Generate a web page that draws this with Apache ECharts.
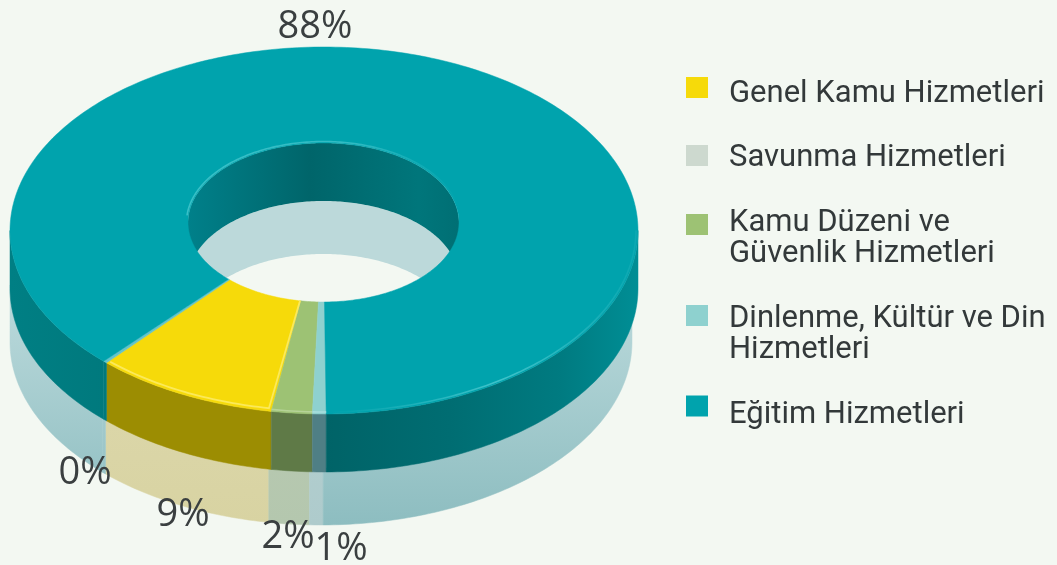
<!DOCTYPE html>
<html><head><meta charset="utf-8">
<style>html,body{margin:0;padding:0;background:#f3f8f2;overflow:hidden}#c{width:1057px;height:565px;filter:blur(.55px)}</style>
<script src="https://cdn.jsdelivr.net/npm/echarts@6/dist/echarts.min.js"></script>
</head><body><div id="c"></div>
<script>
// ---- data
const categories = ['Genel Kamu Hizmetleri','Savunma Hizmetleri','Kamu Düzeni ve\nGüvenlik Hizmetleri','Dinlenme, Kültür ve Din\nHizmetleri','Eğitim Hizmetleri'];
const values = [9.49, 0.2, 2.1, 0.7, 87.51];
const sliceOrder = [3, 2, 0, 1, 4];      // clockwise from the bottom of the ring
const startAngle = -0.4;

// ---- styles
const legendColors = ['#f6da0a','#cdd9cf','#9dc274','#8ed1cf','#00a3ad'];
const topColors    = ['#f6da0a','#62c3ca','#9dc274','#8ed1cf','#00a3ad'];
const edgeColors   = ['#fbe95a','#62c3ca','#b6d398','#a8dede','#3cbfc7'];
const wallColors   = ['#9c8d02',null,'#5f7a47','#4f7f85',null];
const reflectColors= [['#dfdab0','#d8d3a2'],['#bcdadc','#8dbdc0'],['#bccbb4','#b4c7ae'],['#b9d2d3','#aecbcc'],['#bcdadc','#8dbdc0']];
const tealWall = {type:'linear',global:true,x:10,y:0,x2:638,y2:0,colorStops:[
  {offset:0,color:'#007f84'},{offset:.16,color:'#00797d'},{offset:.5,color:'#006367'},
  {offset:.7,color:'#006d72'},{offset:.88,color:'#007b81'},{offset:1,color:'#008e95'}]};
const holeWall = {type:'linear',global:true,x:188,y:0,x2:459,y2:0,colorStops:[
  {offset:0,color:'#00808a'},{offset:.45,color:'#00656a'},{offset:.85,color:'#00767b'},{offset:1,color:'#006f74'}]};
const fontBody = 'Roboto, sans-serif';
const fontLabel = '"Open Sans", sans-serif';

// ---- layout
const outer = {cx:324, cy:230.5, rx:314, ry:183.5};
const hole  = {cx:323.5, cy:222.5, rx:135.5, ry:79.5};
const depth = 58;
const reflectOuterTop = {cx:321, cy:285, rx:311, ry:183};
const reflectOuterBot = {cx:321, cy:342, rx:311, ry:183};
const labelSpots = [[183,515],[85,473],[288,537],[341,549],[315,27]];
const legendTops = [77,143,207.5,303.5,395.5];
const legendIconLift = [6.5,3,14,19,9];   // how far the swatch sits above the text block's middle

// slice angle table
const ranges = {};
let acc = startAngle;
sliceOrder.forEach(i => { const a = values[i]*3.6; ranges[i] = [acc, acc+a]; acc += a; });

const pt = (e,t,dy) => { const r=t*Math.PI/180; return [e.cx-e.rx*Math.sin(r), e.cy+(dy||0)+e.ry*Math.cos(r)]; };
const arc = (e,a,b,dy) => { const n=Math.max(2,Math.ceil(Math.abs(b-a))+1), p=[];
  for(let k=0;k<n;k++) p.push(pt(e,a+(b-a)*k/(n-1),dy)); return p; };
function clip(r,lo,hi){ const out=[];
  for(const s of [-360,0,360]){ const a=Math.max(r[0],lo+s), b=Math.min(r[1],hi+s); if(b>a) out.push([a,b]); }
  return out; }

function renderSlice(params, api){
  const i = params.seriesIndex, r = ranges[i], kids = [];
  const poly = (points,fill,z2,seal) => kids.push({type:'polygon',shape:{points},style:seal?{fill,stroke:fill,lineWidth:.5}:{fill},z2});
  const line = (points,stroke,w,z2) => kids.push({type:'polyline',shape:{points},style:{stroke,lineWidth:w,fill:null},z2});
  const reflectFill = {type:'linear',global:true,x:0,y:290,x2:0,y2:525,colorStops:[
    {offset:0,color:reflectColors[i][0]},{offset:1,color:reflectColors[i][1]}]};
  const wallFill = wallColors[i] || tealWall;
  // back of the hole: inner wall and its reflection
  clip(r,90,270).forEach(([a,b]) => {
    poly(arc(hole,a,b,depth).concat(arc(hole,b,a,depth+53)), '#bcd9da', 1);
    poly(arc(hole,a,b).concat(arc(hole,b,a,depth)), holeWall, 2);
  });
  // front of the ring: reflection then wall
  clip(r,-90,90).forEach(([a,b]) => {
    poly(arc(reflectOuterTop,a,b).concat(arc(reflectOuterBot,b,a)), reflectFill, 3, true);
    poly(arc(outer,a,b).concat(arc(outer,b,a,depth)), wallFill, 4, true);
  });
  // top face
  poly(arc(outer,r[0],r[1]).concat(arc(hole,r[1],r[0])), topColors[i], 5, true);
  // lit edges
  const inset = {cx:outer.cx,cy:outer.cy,rx:outer.rx-2,ry:outer.ry-2};
  if(i===4){
    line(arc(inset,270,359.6), {type:'linear',global:true,x:330,y:0,x2:636,y2:0,colorStops:[
      {offset:0,color:'rgba(60,191,199,0)'},{offset:.55,color:'rgba(70,198,205,.9)'},{offset:1,color:'rgba(60,191,199,.2)'}]}, 1.6, 6);
    const rim = {cx:hole.cx,cy:hole.cy,rx:hole.rx+1.5,ry:hole.ry+1.5};
    line(arc(rim,95,262), {type:'linear',global:true,x:188,y:0,x2:459,y2:0,colorStops:[
      {offset:0,color:'rgba(70,198,205,.8)'},{offset:.6,color:'rgba(70,198,205,.7)'},{offset:1,color:'rgba(70,198,205,0)'}]}, 1.6, 6);
  } else if(i===0){
    const e = {cx:outer.cx,cy:outer.cy,rx:outer.rx-2.5,ry:outer.ry-3};
    line(arc(e,r[1]-.5,r[0]+.5).concat([pt(hole,r[0]+.3)]), edgeColors[0], 1.8, 6);
  } else if(i===2 || i===3){
    line(arc(inset,r[0],r[1]), edgeColors[i], 1.6, 6);
  }
  // percentage label
  kids.push({type:'text',z2:7,style:{text:Math.round(api.value(0))+'%',x:labelSpots[i][0],y:labelSpots[i][1],
    fill:'#3a3f40',font:'400 38px '+fontLabel,align:'center',verticalAlign:'middle'}});
  return {type:'group',children:kids};
}

// swatch 22 x 21 held at the top of its item box, text pushed to 43px by a zero-area point
const swatchIcon = lift => { const h = 21 + 2*lift; return `path://M0 0H22V21H0Z M38 ${h}L38 ${h}Z`; };

const option = {
  backgroundColor:'#f3f8f2',
  animation:false,
  tooltip:{show:false},
  legend: categories.map((name,i)=>({
    data:[{name, icon:swatchIcon(legendIconLift[i])}], left:686, top:legendTops[i], orient:'vertical', padding:0,
    itemWidth:38, itemHeight:21+2*legendIconLift[i], itemGap:0, selectedMode:false,
    textStyle:{fontFamily:fontBody,fontSize:31,lineHeight:31,color:'#33393a'},
    align:'left'
  })),
  series: categories.map((name,i)=>({
    type:'custom', name, coordinateSystem:'none', silent:true,
    itemStyle:{color:legendColors[i]},
    data:[[values[i]]], renderItem:renderSlice
  }))
};
const chart = echarts.init(document.getElementById('c'),null,{renderer:'canvas'});
chart.setOption(option);
</script></body></html>
